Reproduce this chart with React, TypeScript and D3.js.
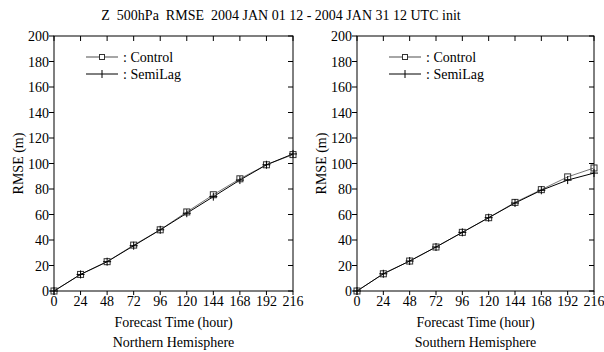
import React from 'react';
import * as d3 from 'd3';

const hours = [0, 24, 48, 72, 96, 120, 144, 168, 192, 216];
const yTicks = [0, 20, 40, 60, 80, 100, 120, 140, 160, 180, 200];

const nhControl = [0, 13, 23, 36, 48, 62, 75.5, 88, 99, 107];
const nhSemiLag = [0, 13, 23, 35.5, 48, 61, 74, 87, 99, 107.5];
const shControl = [0, 13.5, 23.5, 34.5, 46, 57.5, 69.5, 79.5, 89.5, 96.5];
const shSemiLag = [0, 13.5, 23.5, 34.5, 46, 57.5, 69, 79, 87, 92.5];

const title = 'Z  500hPa  RMSE  2004 JAN 01 12 - 2004 JAN 31 12 UTC init';
const font = '"Liberation Serif", "Times New Roman", "DejaVu Serif", serif';

const Panel = ({ left, right, control, semi, name }) => {
    const top = 36;
    const bottom = 291;
    const x = d3.scaleLinear().domain([0, 216]).range([left, right]);
    const y = d3.scaleLinear().domain([0, 200]).range([bottom, top]);
    const line = d3.line<number>().x((_, i) => x(hours[i])).y(d => y(d));
    const mid = (left + right) / 2;
    const lx = left + 32;

    return (
        <g fontFamily={font}>
            <rect x={left} y={top} width={right - left} height={bottom - top} fill="none" stroke="#000" strokeWidth={1} />
            {yTicks.map(t => (
                <g key={t}>
                    <line x1={left - 5} x2={left} y1={y(t)} y2={y(t)} stroke="#000" />
                    <line x1={right - 5} x2={right} y1={y(t)} y2={y(t)} stroke="#000" />
                    <text x={left - 5} y={y(t) + 5} fontSize={14} textAnchor="end">{t}</text>
                </g>
            ))}
            {hours.map(h => (
                <g key={h}>
                    <line x1={x(h)} x2={x(h)} y1={top} y2={top + 5} stroke="#000" />
                    <line x1={x(h)} x2={x(h)} y1={bottom} y2={bottom + 4} stroke="#000" />
                    <text x={x(h)} y={bottom + 15} fontSize={14} textAnchor="middle">{h}</text>
                </g>
            ))}
            <path d={line(control) || ''} fill="none" stroke="#777" strokeWidth={1} />
            <path d={line(semi) || ''} fill="none" stroke="#000" strokeWidth={1} />
            {control.map((v, i) => (
                <rect key={'c' + i} x={x(hours[i]) - 3} y={y(v) - 3} width={6} height={6} fill="none" stroke="#333" strokeWidth={1} />
            ))}
            {semi.map((v, i) => (
                <path key={'s' + i} d={`M${x(hours[i]) - 4},${y(v)}h8M${x(hours[i])},${y(v) - 4}v8`} stroke="#000" strokeWidth={1} />
            ))}
            <line x1={lx} x2={lx + 32} y1={57} y2={57} stroke="#888" strokeWidth={1.5} />
            <rect x={lx + 13.5} y={54.5} width={5} height={5} fill="#fff" stroke="#333" />
            <text x={lx + 37} y={62} fontSize={14}>: Control</text>
            <line x1={lx} x2={lx + 32} y1={74} y2={74} stroke="#000" strokeWidth={1} />
            <line x1={lx + 16} x2={lx + 16} y1={70} y2={78} stroke="#000" strokeWidth={1} />
            <text x={lx + 37} y={79} fontSize={14}>: SemiLag</text>
            <text transform={`translate(${left - 31},${(top + bottom) / 2}) rotate(-90)`} fontSize={14} textAnchor="middle">RMSE (m)</text>
            <text x={mid} y={327} fontSize={14} textAnchor="middle">Forecast Time (hour)</text>
            <text x={mid} y={347} fontSize={14} textAnchor="middle">{name}</text>
        </g>
    );
};

const App = () => (
    <svg width={604} height={352} style={{ position: 'absolute', left: 0, top: 0, background: '#fff' }}>
        <text x={281} y={20} fontFamily={font} fontSize={14} textAnchor="middle" style={{ whiteSpace: 'pre' }}>{title}</text>
        <Panel left={54} right={293} control={nhControl} semi={nhSemiLag} name="Northern Hemisphere" />
        <Panel left={357} right={594} control={shControl} semi={shSemiLag} name="Southern Hemisphere" />
    </svg>
);

export default App;
